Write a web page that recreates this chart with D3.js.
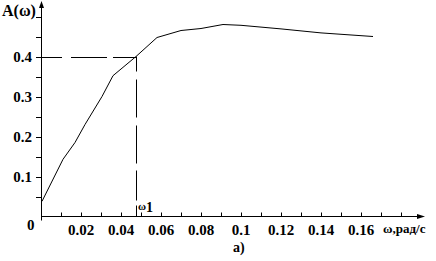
<!DOCTYPE html>
<html><head><meta charset="utf-8">
<script src="https://cdn.jsdelivr.net/npm/d3@7"></script>
<style>body{margin:0;background:#fff}svg{display:block}</style>
</head><body>
<script>
const omega = [0.0005, 0.011, 0.017, 0.022, 0.0305, 0.036, 0.0475, 0.058, 0.07, 0.08, 0.091, 0.1, 0.12, 0.14, 0.166];
const amp   = [0.038, 0.143, 0.185, 0.23, 0.30, 0.352, 0.40, 0.4475, 0.465, 0.47, 0.48, 0.478, 0.469, 0.459, 0.45];
const xTickLabels = [0.02, 0.04, 0.06, 0.08, 0.1, 0.12, 0.14, 0.16];
const yTickLabels = [0.1, 0.2, 0.3, 0.4];
const omega1 = 0.0475, a1 = 0.40;

const FONT = "'Liberation Serif', 'Times New Roman', serif";
const W = 436, H = 261;
const svg = d3.select("body").append("svg").attr("width", W).attr("height", H)
  .attr("font-family", FONT).attr("font-weight", "bold");
const x = d3.scaleLinear().domain([0, 0.1]).range([41, 241]);
const y = d3.scaleLinear().domain([0, 0.1]).range([216.5, 176.5]);

svg.append("line").attr("x1", x(0)).attr("x2", 421).attr("y1", y(0)).attr("y2", y(0)).attr("stroke", "#000");
svg.append("line").attr("x1", x(0)+0.5).attr("x2", x(0)+0.5).attr("y1", y(0)+4).attr("y2", 4).attr("stroke", "#000");
svg.append("path").attr("d", `M${x(0)+0.5},1 L${x(0)-2},8 L${x(0)+3},8 Z`).attr("fill", "#000");
svg.append("path").attr("d", `M425,${y(0)} L417,${y(0)-2.5} L417,${y(0)+2.5} Z`).attr("fill", "#000");

const xt = d3.range(1, 19).map(i => i * 0.01);
svg.selectAll(".xt").data(xt).enter().append("line")
  .attr("x1", d => Math.round(x(d)) + 0.5).attr("x2", d => Math.round(x(d)) + 0.5)
  .attr("y1", y(0)).attr("y2", y(0) - 4).attr("stroke", "#000");
const yt = d3.range(1, 11).map(i => i * 0.05);
svg.selectAll(".yt").data(yt).enter().append("line")
  .attr("x1", x(0)).attr("x2", x(0) - 5)
  .attr("y1", d => Math.round(y(d)) + 0.5).attr("y2", d => Math.round(y(d)) + 0.5).attr("stroke", "#000");

svg.selectAll(".xl").data(xTickLabels).enter().append("text")
  .attr("x", d => x(d)).attr("y", 235).attr("text-anchor", "middle").attr("font-size", 15)
  .text(d => String(d));
svg.selectAll(".yl").data(yTickLabels).enter().append("text")
  .attr("x", 32).attr("y", d => y(d) + 5).attr("text-anchor", "end").attr("font-size", 15)
  .text(d => String(d));
svg.append("text").attr("x", 27).attr("y", 230).attr("font-size", 15).text("0");

svg.append("text").attr("x", 2).attr("y", 16).attr("font-size", 16).text("A(ω)");
svg.append("text").attr("x", 383).attr("y", 233).attr("font-size", 13).text("ω,рад/с");
svg.append("text").attr("x", 233).attr("y", 252).attr("font-size", 14).text("a)");
const w1 = svg.append("text").attr("x", 138).attr("y", 212);
w1.append("tspan").attr("font-size", 11).attr("dy", -2).text("ω");
w1.append("tspan").attr("font-size", 14).attr("dy", 2).text("1");

svg.append("line").attr("x1", x(0)).attr("x2", x(omega1)).attr("y1", Math.round(y(a1)) + 0.5).attr("y2", Math.round(y(a1)) + 0.5)
  .attr("stroke", "#000").attr("stroke-dasharray", "21,9,36,6,25");
svg.append("line").attr("x1", Math.round(x(omega1)) + 0.5).attr("x2", Math.round(x(omega1)) + 0.5).attr("y1", y(a1)).attr("y2", y(0))
  .attr("stroke", "#000").attr("stroke-dasharray", "15,8,38,8,38,7,30,5,12");

const line = d3.line().x((d, i) => x(omega[i])).y((d, i) => y(amp[i]));
svg.append("path").datum(amp).attr("d", line).attr("fill", "none").attr("stroke", "#000").attr("stroke-width", 1);
</script>
</body></html>
